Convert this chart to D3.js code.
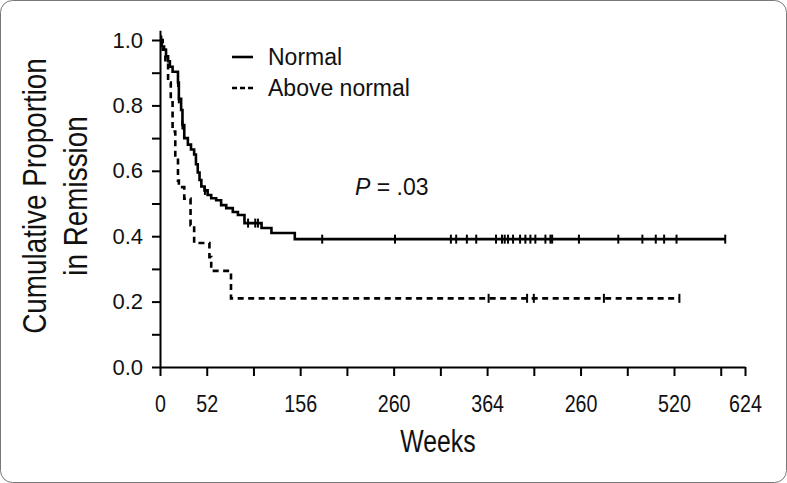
<!DOCTYPE html>
<html><head><meta charset="utf-8">
<script src="https://cdn.jsdelivr.net/npm/d3@7"></script>
<style>
html,body{margin:0;padding:0;background:#fff;}
svg{display:block;}
</style></head>
<body>
<script>
// ---- data ----
const xTickValues = [0,52,104,156,208,260,312,364,416,468,520,572,624,651];
const xTickLabels = ["0","52","","156","","260","","364","","260","","520","","624"];
const yTickValues = [0,0.1,0.2,0.3,0.4,0.5,0.6,0.7,0.8,0.9,1.0];
const yTickLabels = ["0.0","","0.2","","0.4","","0.6","","0.8","","1.0"];

// Normal: step events (weeks, proportion)
const normalTimes = [0,2,4.5,6.7,9,11,14,20,21,23.5,25,27,31,34.5,38,40,42,44,46,49.5,53,57,62.5,68,73.7,81,86.7,94,113,124,150,629];
const normalSurv  = [1.0,0.98,0.97,0.95,0.935,0.918,0.903,0.87,0.82,0.786,0.74,0.70,0.68,0.665,0.65,0.62,0.595,0.572,0.552,0.54,0.526,0.516,0.51,0.495,0.486,0.474,0.465,0.44,0.425,0.41,0.391,0.391];
const normalCensored = [1.5,20,21,25,50,98,106,109,180.5,261.5,323.7,329.6,341.5,351.9,373.9,380.6,383.6,387.3,392.9,400.7,406.6,412.2,417.7,428.9,434.5,436.4,466.2,510,536.8,551.7,561,574.8,629];

// Above normal
const aboveTimes = [0,3,6,9,12,14,17,20,21,27,34,38,55,57,79,578];
const aboveSurv  = [1.0,0.97,0.93,0.87,0.82,0.72,0.64,0.57,0.55,0.515,0.434,0.379,0.336,0.294,0.21,0.21];
const aboveCensored = [365.7,408.5,416,494,578];

const legendLabels = ["Normal","Above normal"];

// ---- drawing ----
const W = 787, H = 483;
const svg = d3.select("body").append("svg").attr("width", W).attr("height", H);

svg.append("rect").attr("x",0.5).attr("y",0.5).attr("width",W-1).attr("height",H-1)
  .attr("rx",12).attr("fill","#fff").attr("stroke","#777").attr("stroke-width",1);

const x = d3.scaleLinear().domain([0,651]).range([160,745]);
const y = d3.scaleLinear().domain([0,1.03]).range([367, 367-1.03*327]);

const reg = "'Liberation Sans',Arial,Helvetica,sans-serif";

// axes
const yAxis = d3.axisLeft(y).tickValues(yTickValues).tickSize(8).tickSizeOuter(0).tickPadding(9)
  .tickFormat((d,i)=>yTickLabels[i]);
const gy = svg.append("g").attr("transform","translate(160,0)").call(yAxis);
gy.selectAll("text").attr("font-family",reg).attr("font-size",22).attr("fill","#111");

const xAxis = d3.axisBottom(x).tickValues(xTickValues).tickSize(9).tickSizeOuter(0).tickPadding(19)
  .tickFormat((d,i)=>xTickLabels[i]);
const gx = svg.append("g").attr("transform","translate(0,367)").call(xAxis);
gx.selectAll("text").attr("font-family",reg).attr("font-size",24).attr("fill","#111")
  .attr("transform","scale(0.82,1)");

[gx,gy].forEach(g=>{
  g.select(".domain").attr("stroke","#000").attr("stroke-width",2);
  g.selectAll(".tick line").attr("stroke","#000").attr("stroke-width",2);
});

// axis titles
svg.append("text").attr("transform","translate(438,452) scale(0.8,1)").attr("text-anchor","middle")
  .attr("font-family",reg).attr("font-size",31).attr("fill","#111").text("Weeks");
const yt = svg.append("text").attr("transform","translate(0,196) rotate(-90) scale(0.82,1)")
  .attr("text-anchor","middle").attr("font-family",reg).attr("font-size",34).attr("fill","#111");
yt.append("tspan").attr("x",0).attr("y",46).text("Cumulative Proportion");
yt.append("tspan").attr("x",0).attr("y",87).text("in Remission");

// curves
const line = d3.line().x(d=>x(d[0])).y(d=>y(d[1])).curve(d3.curveStepAfter);
function survAt(times, surv, t){
  const i = d3.bisectRight(times, t) - 1;
  return surv[Math.max(0,i)];
}
function drawCurve(times, surv, cens, dash){
  const pts = times.map((t,i)=>[t,surv[i]]);
  svg.append("path").datum(pts).attr("d",line).attr("fill","none")
    .attr("stroke","#000").attr("stroke-width",2.6)
    .attr("stroke-dasharray", dash ? "6,4.5" : null);
  svg.append("g").selectAll("line").data(cens).join("line")
    .attr("x1",d=>x(d)).attr("x2",d=>x(d))
    .attr("y1",d=>y(survAt(times,surv,d))-4.5).attr("y2",d=>y(survAt(times,surv,d))+4.5)
    .attr("stroke","#000").attr("stroke-width",2);
}
drawCurve(normalTimes, normalSurv, normalCensored, false);
drawCurve(aboveTimes, aboveSurv, aboveCensored, true);

// legend
const lg = svg.append("g");
legendLabels.forEach((lab,i)=>{
  const yy = 57 + i*31;
  lg.append("line").attr("x1",232).attr("x2",253).attr("y1",yy).attr("y2",yy)
    .attr("stroke","#000").attr("stroke-width",2.6).attr("stroke-dasharray", i ? "5,3" : null);
  lg.append("text").attr("x",268).attr("y",yy+8).attr("font-family",reg).attr("font-size",23)
    .attr("fill","#111").text(lab);
});

// p-value
const pt = svg.append("text").attr("x",355).attr("y",195).attr("font-family",reg)
  .attr("font-size",23).attr("fill","#111");
pt.append("tspan").attr("font-style","italic").text("P");
pt.append("tspan").text(" = .03");
</script>
</body></html>
